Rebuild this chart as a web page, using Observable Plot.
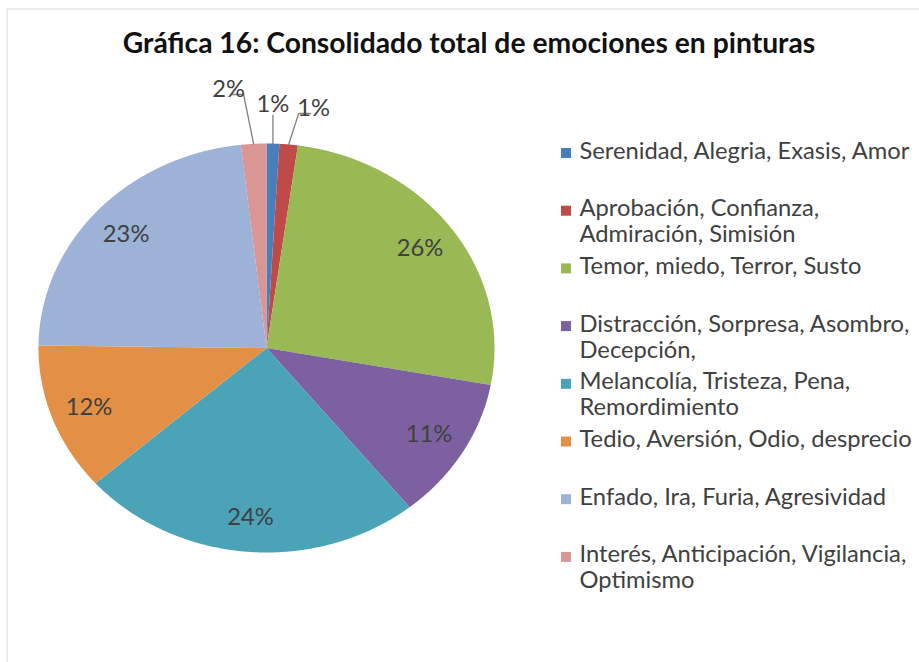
<!DOCTYPE html>
<html><head><meta charset="utf-8">
<script src="https://cdn.jsdelivr.net/npm/d3@7"></script>
<script src="https://cdn.jsdelivr.net/npm/@observablehq/plot@0.6"></script>
<style>html,body{margin:0;padding:0;background:#fff;overflow:hidden}#chart svg{display:block}</style>
</head><body><div id="chart"></div><script>
// ---- data ----
const categories = [
  "Serenidad, Alegria, Exasis, Amor",
  "Aprobación, Confianza, Admiración, Simisión",
  "Temor, miedo, Terror, Susto",
  "Distracción, Sorpresa, Asombro, Decepción,",
  "Melancolía, Tristeza, Pena, Remordimiento",
  "Tedio, Aversión, Odio, desprecio",
  "Enfado, Ira, Furia, Agresividad",
  "Interés, Anticipación, Vigilancia, Optimismo"
];
const legendLabels = [
  "Serenidad, Alegria, Exasis, Amor",
  "Aprobación, Confianza,\nAdmiración, Simisión",
  "Temor, miedo, Terror, Susto",
  "Distracción, Sorpresa, Asombro,\nDecepción,",
  "Melancolía, Tristeza, Pena,\nRemordimiento",
  "Tedio, Aversión, Odio, desprecio",
  "Enfado, Ira, Furia, Agresividad",
  "Interés, Anticipación, Vigilancia,\nOptimismo"
];
const values = [0.9, 1.3, 25.7, 11.3, 24.3, 11.7, 23.0, 1.8]; // percent
const colors = ["#4A7EBB", "#BE4B48", "#98B954", "#7D60A0", "#4BA3B8", "#E38F45", "#9DB2D7", "#D99694"];
const title = "Gráfica 16: Consolidado total de emociones en pinturas";

// ---- layout ----
const W = 919, H = 662;
const cx = 266, cy = 347.5, rx = 228, ry = 204.5;
const FAMILY = "Lato, 'Open Sans', sans-serif";
function fit(text, weight, target) {
  const c = document.createElement("canvas").getContext("2d");
  c.font = `${weight} 100px Lato`;
  return 100 * target / c.measureText(text).width;
}
const titleSize = fit(title, "bold", 693);
const legendSize = fit("Tedio, Aversión, Odio, desprecio", "normal", 333);
const labelSize = legendSize;

const arcs = d3.pie().sort(null).value(d => d)(values);
const pt = (a, r = 1) => [cx + rx * r * Math.sin(a), cy - ry * r * Math.cos(a)];

const slicePts = [];
arcs.forEach((p, i) => {
  slicePts.push({i, x: cx, y: cy, c: colors[i]});
  const n = Math.max(2, Math.ceil((p.endAngle - p.startAngle) / 0.005));
  for (let k = 0; k <= n; k++) {
    const a = p.startAngle + (p.endAngle - p.startAngle) * k / n;
    const [x, y] = pt(a);
    slicePts.push({i, x, y, c: colors[i]});
  }
});

const pctText = v => Math.round(v) + "%";
const inside = [], outside = [], leaders = [];
// small-slice label arrangement: side (-1 left, 0 centre, 1 right) and elbow height
const smallLayout = {0: {side: 0, y: 115}, 1: {side: 1, y: 113}, 7: {side: -1, y: 94}};
arcs.forEach((p, i) => {
  const mid = (p.startAngle + p.endAngle) / 2;
  if (values[i] >= 5) {
    const [x, y] = pt(mid, 0.83);
    inside.push({x, y, t: pctText(values[i])});
  } else {
    const L = smallLayout[i];
    const [ex, ey] = pt(mid, 1);
    if (L.side === 0) {
      leaders.push({k: i, x: ex, y: ey}, {k: i, x: ex, y: L.y});
      outside.push({x: ex, y: L.y - 4, t: pctText(values[i]), a: "middle"});
    } else {
      const bx = ex + 10 * L.side;
      leaders.push({k: i, x: ex, y: ey}, {k: i, x: bx, y: L.y}, {k: i, x: bx + 12 * L.side, y: L.y});
      outside.push({x: bx + 15 * L.side, y: L.y + 2, t: pctText(values[i]), a: L.side < 0 ? "end" : "start"});
    }
  }
});

const legendStep = 57.7, legendTop = 158, lineGap = 26;
const legendRects = categories.map((c, i) => ({x1: 561, x2: 571, y1: legendTop + i * legendStep - 10, y2: legendTop + i * legendStep, c: colors[i]}));
const legendLines = [];
legendLabels.forEach((s, i) => s.split("\n").forEach((line, k) => legendLines.push({x: 579, y: legendTop + i * legendStep + k * lineGap, t: line})));

const chart = Plot.plot({
  width: W, height: H, margin: 0,
  x: {domain: [0, W], range: [0, W], axis: null},
  y: {domain: [0, H], range: [0, H], axis: null},
  style: {fontFamily: FAMILY, background: "#fff"},
  marks: [
    Plot.ruleX([6.5], {y1: 8.5, y2: H, stroke: "#d9d9d9"}),
    Plot.ruleY([8.5], {x1: 6.5, x2: W, stroke: "#d9d9d9"}),
    Plot.line(slicePts, {x: "x", y: "y", z: "i", fill: "c", stroke: "none", curve: "linear-closed"}),
    Plot.line(leaders, {x: "x", y: "y", z: "k", stroke: "#7f7f7f", strokeWidth: 1.3}),
    Plot.text(inside, {x: "x", y: "y", text: "t", fontSize: labelSize, fill: "#404040", lineAnchor: "middle"}),
    Plot.text(outside, {x: "x", y: "y", text: "t", fontSize: labelSize, fill: "#404040", textAnchor: d => d.a, lineAnchor: "bottom"}),
    Plot.rect(legendRects, {x1: "x1", x2: "x2", y1: "y1", y2: "y2", fill: "c"}),
    Plot.text(legendLines, {x: "x", y: "y", text: "t", fontSize: legendSize, fill: "#404040", textAnchor: "start", lineAnchor: "bottom"}),
    Plot.text([title], {x: () => 468.5, y: () => 52, text: d => d, fontSize: titleSize, fontWeight: "bold", fill: "#111", lineAnchor: "bottom"})
  ]
});
document.getElementById("chart").appendChild(chart);
</script></body></html>
